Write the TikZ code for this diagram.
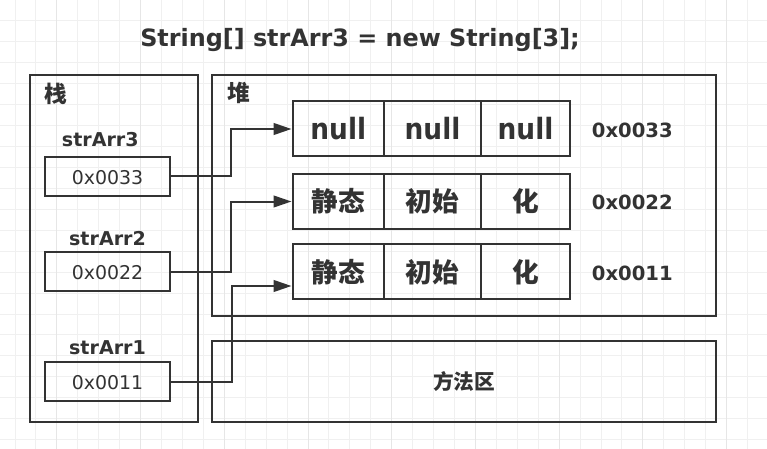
\documentclass[tikz,border=0pt]{standalone}
\usepackage{fontspec}
\setmainfont{DejaVu Sans}
\newfontfamily\cjk{Noto Sans CJK SC}
\newfontfamily\narrowfont{DejaVu Sans}[FakeStretch=0.9]
\usetikzlibrary{arrows.meta}
\definecolor{ink}{HTML}{333333}
\definecolor{gridminor}{HTML}{F0F0F0}
\definecolor{gridmajor}{HTML}{E6E6E6}
\begin{document}
\begin{tikzpicture}[x=0.75pt,y=-0.75pt,
  outline/.style={draw=ink, line width=1.5pt, inner sep=0pt},
  cell/.style={outline, minimum height=0.75*55pt, text=ink, font=\narrowfont\fontsize{22pt}{26pt}\selectfont\bfseries},
  cjkcell/.style={cell, font=\cjk\fontsize{20pt}{24pt}\selectfont\bfseries},
  refbox/.style={outline, minimum width=0.75*125pt, minimum height=0.75*39.5pt},
  reftext/.style={text=ink, inner sep=0pt, anchor=base, font=\fontsize{14.2pt}{16pt}\selectfont},
  lbl/.style={text=ink, inner sep=0pt, anchor=base, font=\fontsize{14.3pt}{16pt}\selectfont\bfseries},
  addr/.style={text=ink, inner sep=0pt, anchor=base, font=\fontsize{14.7pt}{16pt}\selectfont\bfseries},
  cjklbl/.style={text=ink, inner sep=0pt, font=\cjk\fontsize{17pt}{20pt}\selectfont\bfseries},
  conn/.style={draw=ink, line width=1.5pt, -{Triangle[length=13.5pt,width=8.8pt]}},
]
\useasboundingbox (0,0) rectangle (767,449);
\fill[white] (0,0) rectangle (767,449);
% grid
\foreach \k in {-1,...,36} {
  \pgfmathsetmacro\xx{15+20.93*\k}
  \draw[gridminor, line width=0.75pt] (\xx,0) -- (\xx,449);
}
\foreach \j in {0,...,21} {
  \pgfmathsetmacro\yy{-0.25+20.95*\j}
  \draw[gridminor, line width=0.75pt] (0,\yy) -- (767,\yy);
}
\foreach \k in {2,6,...,34} {
  \pgfmathsetmacro\xx{15+20.93*\k}
  \draw[gridmajor, line width=0.75pt] (\xx,0) -- (\xx,449);
}

% title
\node[text=ink, inner sep=0pt, anchor=base, font=\fontsize{17.9pt}{20pt}\selectfont\bfseries] (title) at (360,46.7) {String[] strArr3 = new String[3];};

% containers
\node[outline, minimum width=0.75*168.2pt, minimum height=0.75*346pt] (stack) at (113.6,248.5) {};
\node[outline, minimum width=0.75*504.6pt, minimum height=0.75*240.5pt] (heap) at (464,195.75) {};
\node[outline, minimum width=0.75*504.6pt, minimum height=0.75*80.8pt, text=ink, font=\cjk\fontsize{15.5pt}{18pt}\selectfont\bfseries] (method) at (464,381.1) {方法区};
\node[cjklbl] (stacklbl) at (55.5,94) {栈};
\node[cjklbl] (heaplbl) at (239,92.5) {堆};

% stack variables
\node[lbl] (n3) at (100.3,146.7) {strArr3};
\node[refbox] (r3) at (107.5,176.5) {};
\node[reftext] (t3) at (107.5,184.3) {0x0033};
\node[lbl] (n2) at (107.5,245) {strArr2};
\node[refbox] (r2) at (107.5,271.5) {};
\node[reftext] (t2) at (107.5,279.3) {0x0022};
\node[lbl] (n1) at (107.5,354) {strArr1};
\node[refbox] (r1) at (107.5,381.5) {};
\node[reftext] (t1) at (107.5,389.3) {0x0011};

% arrays
\node[cell, minimum width=0.75*91.5pt] (a1) at (338.25,129) {null};
\node[cell, minimum width=0.75*97pt] (a2) at (432.5,129) {null};
\node[cell, minimum width=0.75*89pt] (a3) at (525.5,129) {null};
\node[cjkcell, minimum width=0.75*91.5pt] (b1) at (338.25,201.5) {静态};
\node[cjkcell, minimum width=0.75*97pt] (b2) at (432.5,201.5) {初始};
\node[cjkcell, minimum width=0.75*89pt] (b3) at (525.5,201.5) {化};
\node[cjkcell, minimum width=0.75*91.5pt] (c1) at (338.25,271.8) {静态};
\node[cjkcell, minimum width=0.75*97pt] (c2) at (432.5,271.8) {初始};
\node[cjkcell, minimum width=0.75*89pt] (c3) at (525.5,271.8) {化};

\node[addr] (ad3) at (632.3,137.3) {0x0033};
\node[addr] (ad2) at (632.3,209.3) {0x0022};
\node[addr] (ad1) at (632.3,280) {0x0011};

% connectors
\coordinate (k3) at (231,129);
\coordinate (k2) at (231,201.5);
\coordinate (k1) at (232,286);
\draw[conn] (r3.east) -| (k3) -- (a1.west);
\draw[conn] (r2.east) -| (k2) -- (b1.west);
\draw[conn] (r1.east) -| (k1) -- (k1 -| c1.west);
\end{tikzpicture}
\end{document}
